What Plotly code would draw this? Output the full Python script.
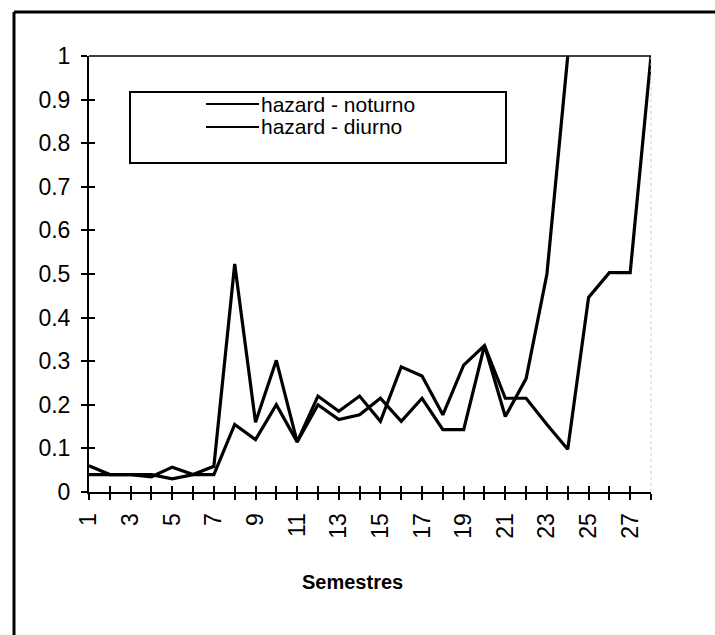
import plotly.graph_objects as go

# Semesters 1..28
semestres = list(range(1, 29))

# Hazard rates per semester
hazard_noturno = [0.04, 0.04, 0.04, 0.04, 0.03, 0.04, 0.04, 0.155, 0.12, 0.20,
                  0.115, 0.20, 0.166, 0.177, 0.215, 0.162, 0.215, 0.143, 0.143, 0.336,
                  0.173, 0.26, 0.50, 1.0, None, None, None, None]
hazard_diurno = [0.06, 0.04, 0.04, 0.035, 0.057, 0.04, 0.059, 0.523, 0.16, 0.302,
                 0.115, 0.22, 0.185, 0.22, 0.162, 0.287, 0.266, 0.177, 0.291, 0.336,
                 0.215, 0.215, 0.155, 0.098, 0.446, 0.503, 0.503, 1.0]

series_names = ["hazard - noturno", "hazard - diurno"]

y_ticks = [0, 0.1, 0.2, 0.3, 0.4, 0.5, 0.6, 0.7, 0.8, 0.9, 1]
y_ticktext = ["0", "0.1", "0.2", "0.3", "0.4", "0.5", "0.6", "0.7", "0.8", "0.9", "1"]
x_ticktext = [str(s) if s % 2 == 1 else "" for s in semestres]

FONT = "Liberation Sans, Arial, sans-serif"

fig = go.Figure()
for name, vals in zip(series_names, [hazard_noturno, hazard_diurno]):
    fig.add_trace(go.Scatter(x=semestres, y=vals, mode="lines", name=name,
                             line=dict(color="black", width=3.2),
                             connectgaps=False, showlegend=False))

# empty trace carrying the overlay axes that draw the inner half of the cross ticks
fig.add_trace(go.Scatter(x=[], y=[], xaxis="x2", yaxis="y2", showlegend=False,
                         hoverinfo="skip"))

# plot area in pixels
L, R, T, B = 89, 651, 56, 492
W, H = 715, 635


def px(x):
    return (x - L) / (R - L)


def py(y):
    return (B - y) / (B - T)


shapes = [
    # outer frame (left and top)
    dict(type="line", xref="paper", yref="paper", x0=px(14), x1=px(14), y0=py(12), y1=py(640),
         line=dict(color="black", width=3)),
    dict(type="line", xref="paper", yref="paper", x0=px(14), x1=px(715), y0=py(12), y1=py(12),
         line=dict(color="black", width=3)),
    # plot area top and right edges
    dict(type="line", xref="paper", yref="paper", x0=0, x1=1, y0=1, y1=1,
         line=dict(color="black", width=1.5)),
    dict(type="line", xref="paper", yref="paper", x0=1, x1=1, y0=0, y1=1,
         line=dict(color="#cfcfcf", width=1, dash="dot")),
    # legend box
    dict(type="rect", xref="paper", yref="paper", x0=px(130), x1=px(506), y0=py(92), y1=py(163),
         line=dict(color="black", width=2), fillcolor="white"),
    dict(type="line", xref="paper", yref="paper", x0=px(206), x1=px(259), y0=py(104), y1=py(104),
         line=dict(color="black", width=2)),
    dict(type="line", xref="paper", yref="paper", x0=px(206), x1=px(259), y0=py(127), y1=py(127),
         line=dict(color="black", width=2)),
]

annotations = [
    dict(text=series_names[0], xref="paper", yref="paper", x=px(259), y=py(104),
         xanchor="left", yanchor="middle", showarrow=False,
         font=dict(family=FONT, size=21, color="black")),
    dict(text=series_names[1], xref="paper", yref="paper", x=px(259), y=py(127),
         xanchor="left", yanchor="middle", showarrow=False,
         font=dict(family=FONT, size=21, color="black")),
    dict(text="<b>Semestres</b>", xref="paper", yref="paper", x=px(352), y=py(582),
         xanchor="center", yanchor="middle", showarrow=False,
         font=dict(family=FONT, size=20, color="black")),
]

axis_common = dict(showgrid=False, zeroline=False, tickcolor="black", tickwidth=1.5)

fig.update_layout(
    width=W, height=H,
    margin=dict(l=L, r=W - R, t=T, b=H - B),
    paper_bgcolor="white", plot_bgcolor="white",
    shapes=shapes, annotations=annotations,
    xaxis=dict(range=[1, 28], tickmode="array", tickvals=semestres, ticktext=x_ticktext,
               tickangle=-90, ticks="outside", ticklen=6, showline=True,
               linecolor="black", linewidth=2, ticklabelstandoff=4,
               tickfont=dict(family=FONT, size=23, color="black"), **axis_common),
    yaxis=dict(range=[0, 1], tickmode="array", tickvals=y_ticks, ticktext=y_ticktext,
               ticks="outside", ticklen=6, showline=True, linecolor="black", linewidth=2,
               ticklabelstandoff=6,
               tickfont=dict(family=FONT, size=23, color="black"), **axis_common),
    xaxis2=dict(overlaying="x", anchor="y2", side="bottom", range=[1, 28], tickmode="array",
                tickvals=semestres, ticks="inside", ticklen=6, showticklabels=False,
                showline=False, **axis_common),
    yaxis2=dict(overlaying="y", anchor="x2", side="left", range=[0, 1], tickmode="array",
                tickvals=y_ticks, ticks="inside", ticklen=6, showticklabels=False,
                showline=False, **axis_common),
)

fig.write_html("out.html")
